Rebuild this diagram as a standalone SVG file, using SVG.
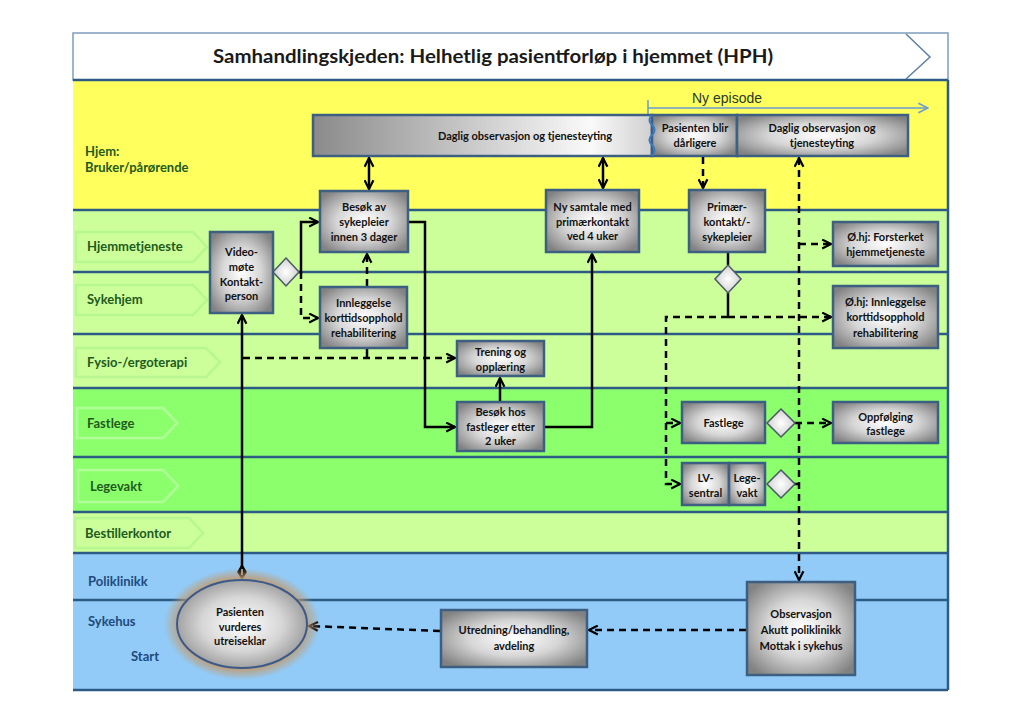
<svg xmlns="http://www.w3.org/2000/svg" width="1024" height="723" viewBox="0 0 1024 723">
<defs>
<radialGradient id="gBox" cx="50%" cy="50%" r="62%">
<stop offset="0" stop-color="#ffffff"/><stop offset="0.5" stop-color="#d6d6d6"/><stop offset="1" stop-color="#828282"/>
</radialGradient>
<linearGradient id="gBar" x1="0" y1="0" x2="1" y2="0">
<stop offset="0" stop-color="#8a8a8a"/><stop offset="0.82" stop-color="#fafafa"/><stop offset="1" stop-color="#d0d0d0"/>
</linearGradient>
<radialGradient id="gDia" cx="50%" cy="50%" r="60%">
<stop offset="0" stop-color="#ffffff"/><stop offset="1" stop-color="#c8c8c8"/>
</radialGradient>
<radialGradient id="gGlow" cx="50%" cy="50%" r="50%">
<stop offset="0.8" stop-color="#c29a6e" stop-opacity="0.9"/><stop offset="1" stop-color="#c29a6e" stop-opacity="0"/>
</radialGradient>
<marker id="ar" viewBox="0 0 10 10" refX="9" refY="5" markerWidth="11" markerHeight="11" markerUnits="userSpaceOnUse" orient="auto-start-reverse">
<path d="M1,1 L9,5 L1,9" fill="none" stroke="#000" stroke-width="2"/>
</marker>
<marker id="arBlue" viewBox="0 0 10 10" refX="9" refY="5" markerWidth="12" markerHeight="12" markerUnits="userSpaceOnUse" orient="auto">
<path d="M1,1 L9,5 L1,9" fill="none" stroke="#6a9bd0" stroke-width="1.3"/>
</marker>
<style>
.lane{stroke:none}
.ldiv{stroke:#2e5b86;stroke-width:2.5}
.pent{stroke:#b5f58f;stroke-width:2.5;stroke-opacity:0.9}
.pentB{stroke:#b0ff98;stroke-width:2.5}
.ll{font-family:Lato,"Open Sans",sans-serif;font-weight:bold;font-size:13px;fill:#1f5a1f}
.lb{font-family:Lato,"Open Sans",sans-serif;font-weight:bold;font-size:13px;fill:#1f4a7d}
.box{fill:url(#gBox);stroke:#3d5f82;stroke-width:2.5}
.t{font-family:Lato,"Open Sans",sans-serif;font-weight:bold;font-size:11px;fill:#111111;text-anchor:middle}
.dia{fill:url(#gDia);stroke:#4a5866;stroke-width:1.5}
.s{fill:none;stroke:#000;stroke-width:2.5}
.d{fill:none;stroke:#000;stroke-width:2.5;stroke-dasharray:7 5}
</style>
</defs>
<rect width="1024" height="723" fill="#ffffff"/>
<!-- header -->
<g id="header">
<rect x="73" y="33" width="875" height="47" fill="#ffffff" stroke="#7f9dbd" stroke-width="1.5"/>
<polyline points="906,34 930,57 906,79" fill="none" stroke="#5f7fa5" stroke-width="1.5"/>
<text x="493" y="63" text-anchor="middle" textLength="560" lengthAdjust="spacingAndGlyphs" style="font-family:Lato,'Open Sans',sans-serif;font-weight:bold;font-size:18px;fill:#1a1a1a">Samhandlingskjeden: Helhetlig pasientforløp i hjemmet (HPH)</text>
</g>
<!-- lanes -->
<g id="lanes">
<rect class="lane" x="73" y="80" width="875" height="130" fill="#ffff5e"/>
<rect class="lane" x="73" y="210" width="875" height="178" fill="#ccff99"/>
<rect class="lane" x="73" y="388" width="875" height="124" fill="#8cff6c"/>
<rect class="lane" x="73" y="512" width="875" height="41" fill="#ccff99"/>
<rect class="lane" x="73" y="553" width="875" height="137" fill="#92cbf7"/>
<line class="ldiv" x1="73" y1="80" x2="948" y2="80"/>
<line class="ldiv" x1="73" y1="210" x2="948" y2="210"/>
<line class="ldiv" x1="73" y1="272" x2="948" y2="272"/>
<line class="ldiv" x1="73" y1="334" x2="948" y2="334"/>
<line class="ldiv" x1="73" y1="388" x2="948" y2="388"/>
<line class="ldiv" x1="73" y1="457" x2="948" y2="457"/>
<line class="ldiv" x1="73" y1="512" x2="948" y2="512"/>
<line class="ldiv" x1="73" y1="553" x2="948" y2="553"/>
<line class="ldiv" x1="73" y1="600" x2="948" y2="600"/>
<line class="ldiv" x1="73" y1="690" x2="948" y2="690"/>
<line class="ldiv" x1="948" y1="80" x2="948" y2="690"/>
<polygon class="pent" fill="#ccff99" points="76,232 193,232 207,247 193,262 76,262"/>
<polygon class="pent" fill="#ccff99" points="76,285 193,285 207,300 193,315 76,315"/>
<polygon class="pent" fill="#ccff99" points="76,348 206,348 220,362 206,377 76,377"/>
<polygon class="pentB" fill="#8cff6c" points="77,408 163,408 177,423 163,438 77,438"/>
<polygon class="pentB" fill="#8cff6c" points="78,470 163,470 178,486 163,502 78,502"/>
<polygon class="pent" fill="#ccff99" points="75,518 189,518 203,533 189,548 75,548"/>
<text class="ll" x="85" y="156">Hjem:</text>
<text class="ll" x="85" y="172">Bruker/pårørende</text>
<text class="ll" x="87" y="251">Hjemmetjeneste</text>
<text class="ll" x="87" y="304">Sykehjem</text>
<text class="ll" x="87" y="367">Fysio-/ergoterapi</text>
<text class="ll" x="87" y="428">Fastlege</text>
<text class="ll" x="90" y="491">Legevakt</text>
<text class="ll" x="85" y="538">Bestillerkontor</text>
<text class="lb" x="88" y="586">Poliklinikk</text>
<text class="lb" x="88" y="626">Sykehus</text>
<text class="lb" x="131" y="661">Start</text>
</g>
<!-- ny episode -->
<g id="ny-episode">
<line x1="648" y1="100" x2="648" y2="116" stroke="#6a9bd0" stroke-width="1.5"/>
<line x1="648" y1="108" x2="928" y2="108" stroke="#6a9bd0" stroke-width="1.5" marker-end="url(#arBlue)"/>
<text x="727" y="103" text-anchor="middle" style="font-family:'Liberation Sans',Arial,sans-serif;font-size:14px;fill:#2a3a2a">Ny episode</text>
</g>
<!-- top bar -->
<g id="daglig1">
<rect x="313" y="115" width="339" height="41" fill="url(#gBar)" stroke="#3d5f82" stroke-width="2.5"/>
<text class="t" x="525" y="140">Daglig observasjon og tjenesteyting</text>
</g>
<g id="pasienten-blir-darligere">
<rect x="652" y="115" width="85" height="41" fill="url(#gBox)" stroke="#3d5f82" stroke-width="2.5"/>
<path d="M652,115 q-5,5 0,10 q5,5 0,10 q-5,5 0,10 q5,5 0,11" fill="none" stroke="#3a78c0" stroke-width="2"/>
<text class="t" x="695" y="132">Pasienten blir</text>
<text class="t" x="695" y="147">dårligere</text>
</g>
<g id="daglig2">
<rect class="box" x="737" y="115" width="171" height="41"/>
<text class="t" x="822" y="132">Daglig observasjon og</text>
<text class="t" x="822" y="147">tjenesteyting</text>
</g>
<!-- connectors -->
<g id="connectors">
<path class="s" d="M369,158 L369,189" marker-start="url(#ar)" marker-end="url(#ar)"/>
<path class="s" d="M603,158 L603,188" marker-start="url(#ar)" marker-end="url(#ar)"/>
<path class="d" d="M703,157 L703,188" marker-end="url(#ar)"/>
<path class="d" d="M799,158 L799,580" marker-start="url(#ar)" marker-end="url(#ar)"/>
<path class="d" d="M799,244 L831,244" marker-end="url(#ar)"/>
<path class="d" d="M795,423 L831,423" marker-end="url(#ar)"/>
<path class="s" d="M794,484 L799,484"/>
<path class="s" d="M728,253 L728,265"/>
<path class="s" d="M728,293 L728,317"/>
<path class="d" d="M728,317 L831,317" marker-end="url(#ar)"/>
<path class="d" d="M728,317 L666,317 L666,484 L680,484" marker-end="url(#ar)"/>
<path class="d" d="M666,423 L680,423" marker-end="url(#ar)"/>
<path class="s" d="M299,272 L301,272 L301,222 L318,222" marker-end="url(#ar)"/>
<path class="d" d="M301,272 L301,318 L318,318" marker-end="url(#ar)"/>
<path class="d" d="M367,286 L367,254" marker-end="url(#ar)"/>
<path class="s" d="M367,349 L367,358"/>
<path class="d" d="M243,358 L455,358" marker-end="url(#ar)"/>
<path class="s" d="M242,574 L242,315" marker-end="url(#ar)"/>
<path d="M242,565 L246,572 L242,579 L238,572 Z" fill="#000" stroke="#000" stroke-width="1.5"/>
<line x1="242" y1="569" x2="242" y2="575" stroke="#fff" stroke-width="1.2"/>
<path class="s" d="M408,222 L425,222 L425,427 L455,427" marker-end="url(#ar)"/>
<path class="s" d="M545,427 L592,427 L592,254" marker-end="url(#ar)"/>
<path class="s" d="M500,401 L500,378" marker-end="url(#ar)"/>
<path class="d" d="M746,630 L589,630" marker-end="url(#ar)"/>
<path class="d" d="M440,631 L309,626" marker-end="url(#ar)"/>
</g>
<!-- nodes -->
<g id="besok-av-sykepleier">
<rect class="box" x="320" y="191" width="88" height="61"/>
<text class="t" x="364" y="211">Besøk av</text>
<text class="t" x="364" y="226">sykepleier</text>
<text class="t" x="364" y="241">innen 3 dager</text>
</g>
<g id="ny-samtale">
<rect class="box" x="546" y="190" width="93" height="62"/>
<text class="t" x="592.5" y="211">Ny samtale med</text>
<text class="t" x="592.5" y="226">primærkontakt</text>
<text class="t" x="592.5" y="240">ved 4 uker</text>
</g>
<g id="primaerkontakt">
<rect class="box" x="689" y="190" width="76" height="62"/>
<text class="t" x="727" y="211">Primær-</text>
<text class="t" x="727" y="226">kontakt/-</text>
<text class="t" x="727" y="241">sykepleier</text>
</g>
<g id="videomote">
<rect class="box" x="210" y="232" width="63" height="81"/>
<text class="t" x="241.5" y="256">Video-</text>
<text class="t" x="241.5" y="271">møte</text>
<text class="t" x="241.5" y="286">Kontakt-</text>
<text class="t" x="241.5" y="300">person</text>
</g>
<g id="diamond-video">
<polygon class="dia" points="286,258 299,272 286,286 273,272"/>
</g>
<g id="innleggelse">
<rect class="box" x="320" y="287" width="87" height="61"/>
<text class="t" x="363.5" y="307">Innleggelse</text>
<text class="t" x="363.5" y="322">korttidsopphold</text>
<text class="t" x="363.5" y="337">rehabilitering</text>
</g>
<g id="trening">
<rect class="box" x="457" y="341" width="87" height="35"/>
<text class="t" x="500.5" y="356">Trening og</text>
<text class="t" x="500.5" y="371">opplæring</text>
</g>
<g id="besok-hos-fastlege">
<rect class="box" x="457" y="402" width="87" height="49"/>
<text class="t" x="500.5" y="416">Besøk hos</text>
<text class="t" x="500.5" y="431">fastleger etter</text>
<text class="t" x="500.5" y="445">2 uker</text>
</g>
<g id="diamond-primaer">
<polygon class="dia" points="728,265 741,279 728,293 715,279"/>
</g>
<g id="ohj-forsterket">
<rect class="box" x="833" y="222" width="105" height="44"/>
<text class="t" x="885.5" y="241">Ø.hj: Forsterket</text>
<text class="t" x="885.5" y="256">hjemmetjeneste</text>
</g>
<g id="ohj-innleggelse">
<rect class="box" x="833" y="286" width="105" height="62"/>
<text class="t" x="885.5" y="306">Ø.hj: Innleggelse</text>
<text class="t" x="885.5" y="321">korttidsopphold</text>
<text class="t" x="885.5" y="337">rehabilitering</text>
</g>
<g id="fastlege">
<rect class="box" x="682" y="402" width="83" height="41"/>
<text class="t" x="723.5" y="427">Fastlege</text>
</g>
<g id="diamond-fastlege">
<polygon class="dia" points="781,409 795,423 781,437 767,423"/>
</g>
<g id="oppfolging-fastlege">
<rect class="box" x="833" y="402" width="105" height="41"/>
<text class="t" x="885.5" y="421">Oppfølging</text>
<text class="t" x="885.5" y="435">fastlege</text>
</g>
<g id="lv-sentral">
<rect class="box" x="682" y="463" width="47" height="42"/>
<text class="t" x="705.5" y="482">LV-</text>
<text class="t" x="705.5" y="497">sentral</text>
</g>
<g id="legevakt">
<rect class="box" x="729" y="463" width="36" height="42"/>
<text class="t" x="747" y="482">Lege-</text>
<text class="t" x="747" y="497">vakt</text>
</g>
<g id="diamond-legevakt">
<polygon class="dia" points="781,470 795,484 781,498 767,484"/>
</g>
<g id="pasienten-vurderes">
<ellipse cx="242" cy="624" rx="78" ry="56" fill="url(#gGlow)"/>
<ellipse cx="242" cy="624" rx="65" ry="44" fill="url(#gBox)" stroke="#3b5a8a" stroke-width="2"/>
<text class="t" x="240" y="616">Pasienten</text>
<text class="t" x="240" y="631">vurderes</text>
<text class="t" x="240" y="645">utreiseklar</text>
</g>
<g id="utredning">
<rect class="box" x="441" y="610" width="146" height="57"/>
<text class="t" x="514" y="634">Utredning/behandling,</text>
<text class="t" x="514" y="650">avdeling</text>
</g>
<g id="observasjon">
<rect class="box" x="747" y="582" width="108" height="93"/>
<text class="t" x="801" y="618">Observasjon</text>
<text class="t" x="801" y="634">Akutt poliklinikk</text>
<text class="t" x="801" y="650">Mottak i sykehus</text>
</g>
</svg>
